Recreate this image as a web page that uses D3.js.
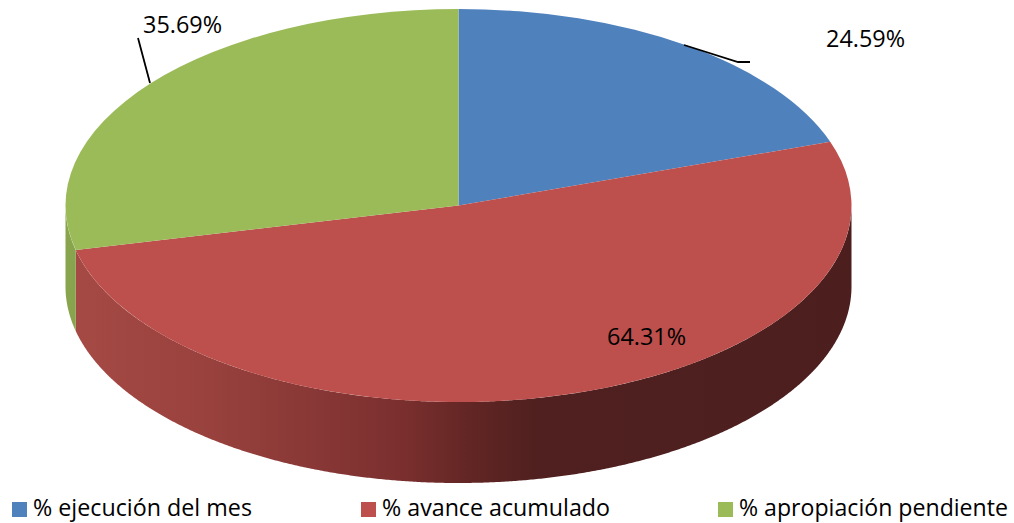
<!DOCTYPE html>
<html>
<head>
<meta charset="utf-8">
<script src="https://cdnjs.cloudflare.com/ajax/libs/d3/7.8.5/d3.min.js"></script>
<style>
html, body { margin: 0; padding: 0; background: #fff; }
svg { display: block; }
text { font-family: "Open Sans", Lato, sans-serif; fill: #000; }
</style>
</head>
<body>
<svg width="1014" height="523"></svg>
<script>
var categories = ["% ejecución del mes", "% avance acumulado", "% apropiación pendiente"];
var values = [24.59, 64.31, 35.69];
var labels = ["24.59%", "64.31%", "35.69%"];
var colors = ["#4f81bd", "#bd4f4c", "#9bbb59"];

var svg = d3.select("svg"),
    cx = 458.5,
    cy = 205.5,
    rx = 393,
    ry = 196.5,
    depth = 81;

var pie = d3.pie().sort(null);
var slices = pie(values);

var arc = d3.arc()
    .innerRadius(0)
    .outerRadius(rx);

// horizontal shading of the side wall, left to right across the pie
var defs = svg.append("defs");
var redShade = defs.append("linearGradient")
    .attr("id", "redWall")
    .attr("gradientUnits", "userSpaceOnUse")
    .attr("x1", cx - rx).attr("x2", cx + rx)
    .attr("y1", 0).attr("y2", 0);
[[0, "#a64a45"], [0.17, "#9a423e"], [0.3, "#8a3937"], [0.43, "#7a2f2e"], [0.515, "#622624"], [0.6, "#4f201f"], [1, "#4c1f1e"]]
  .forEach(function(s) {
    redShade.append("stop").attr("offset", s[0]).attr("stop-color", s[1]);
  });

var wallFill = ["#3e5a7e", "url(#redWall)", "#88a54e"];

var wall = d3.area()
    .x(function(a) { return cx + rx * Math.sin(a); })
    .y0(function(a) { return cy - ry * Math.cos(a); })
    .y1(function(a) { return cy - ry * Math.cos(a) + depth; });

// only the front half of the rim is visible
svg.append("g")
    .selectAll("path")
    .data(slices)
    .enter().append("path")
    .attr("d", function(d) {
      var a0 = Math.max(d.startAngle, Math.PI / 2),
          a1 = Math.min(d.endAngle, Math.PI * 1.5);
      if (a1 <= a0) return null;
      return wall(d3.range(a0, a1, 0.005).concat([a1]));
    })
    .style("fill", function(d) { return wallFill[d.index]; });

svg.append("g")
    .attr("transform", "translate(" + cx + "," + cy + ") scale(1," + ry / rx + ")")
    .selectAll("path")
    .data(slices)
    .enter().append("path")
    .attr("d", arc)
    .style("fill", function(d) { return colors[d.index]; });

// leader lines
var line = d3.line();
var leaders = [
  [[684, 45], [738, 62], [750, 62]],
  [[150, 83], [138, 38]]
];
svg.append("g")
    .selectAll("path")
    .data(leaders)
    .enter().append("path")
    .attr("d", line)
    .style("fill", "none")
    .style("stroke", "#000")
    .style("stroke-width", 1.8);

var labelPos = [[826, 47], [607, 345], [143, 33]];
svg.append("g")
    .selectAll("text")
    .data(labels)
    .enter().append("text")
    .attr("x", function(d, i) { return labelPos[i][0]; })
    .attr("y", function(d, i) { return labelPos[i][1]; })
    .attr("textLength", 79)
    .attr("lengthAdjust", "spacingAndGlyphs")
    .style("font-size", "23px")
    .text(function(d) { return d; });

var legendX = [12, 361, 718];
var legendW = [219, 228, 269];
var legend = svg.append("g")
    .selectAll("g")
    .data(categories)
    .enter().append("g")
    .attr("transform", function(d, i) { return "translate(" + legendX[i] + ",502)"; });
legend.append("rect")
    .attr("width", 15)
    .attr("height", 15)
    .style("fill", function(d, i) { return colors[i]; });
legend.append("text")
    .attr("x", 21)
    .attr("y", 14)
    .attr("textLength", function(d, i) { return legendW[i]; })
    .attr("lengthAdjust", "spacingAndGlyphs")
    .style("font-size", "23px")
    .text(function(d) { return d; });
</script>
</body>
</html>
